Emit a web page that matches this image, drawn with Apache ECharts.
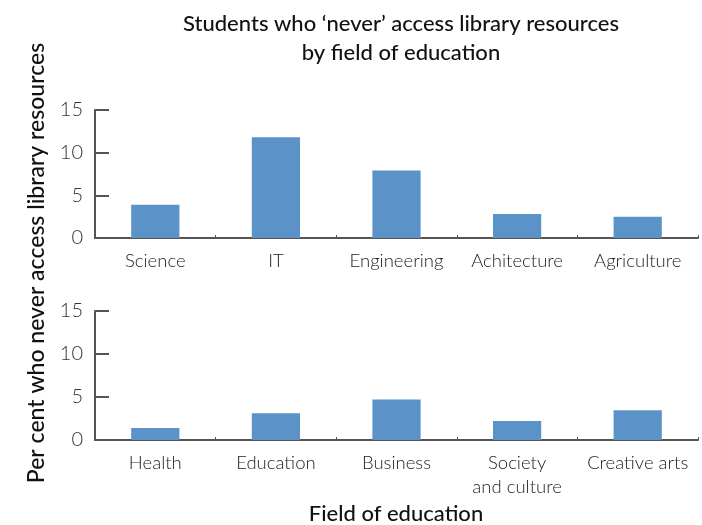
<!DOCTYPE html>
<html><head><meta charset="utf-8">
<script src="https://cdn.jsdelivr.net/npm/echarts@6/dist/echarts.min.js"></script>
<style>html,body{margin:0;padding:0;background:#fff}#c{width:702px;height:525px}</style>
</head><body><div id="c"></div>
<script>
const topCategories = ['Science', 'IT', 'Engineering', 'Achitecture', 'Agriculture'];
const topValues = [3.9, 11.8, 7.9, 2.8, 2.5];
const bottomCategories = ['Health', 'Education', 'Business', 'Society\nand culture', 'Creative arts'];
const bottomValues = [1.4, 3.1, 4.7, 2.2, 3.45];
const yTicks = [0, 5, 10, 15];

const FONT = 'Lato';
const axisColor = '#555';
function yAxis(gi) {
  return {
    type: 'value', gridIndex: gi, min: yTicks[0], max: yTicks[yTicks.length - 1], interval: yTicks[1] - yTicks[0],
    axisLine: { show: true, lineStyle: { color: axisColor, width: 2 } },
    axisTick: { show: true, inside: true, length: 14, lineStyle: { color: axisColor, width: 2 } },
    splitLine: { show: false },
    axisLabel: { fontFamily: FONT, fontWeight: 300, fontSize: 20, color: '#333', margin: 12 }
  };
}
function xAxis(gi, cats) {
  return {
    type: 'category', gridIndex: gi, data: cats,
    axisLine: { show: true, lineStyle: { color: axisColor, width: 2 } },
    axisTick: { show: true, inside: true, length: 3, lineStyle: { color: axisColor, width: 1 } },
    axisLabel: { fontFamily: FONT, fontWeight: 300, fontSize: 18.5, color: '#222', margin: 11, lineHeight: 24, interval: 0 }
  };
}
const chart = echarts.init(document.getElementById('c'));
chart.setOption({
  animation: false,
  title: {
    text: 'Students who \u2018never\u2019 access library resources\nby field of education',
    left: 396, top: 4, textAlign: 'center',
    textStyle: { fontFamily: FONT, fontWeight: 500, fontSize: 22, color: '#111', lineHeight: 29 }
  },
  grid: [
    { left: 95, top: 110, width: 603, height: 128 },
    { left: 95, top: 311, width: 603, height: 129 }
  ],
  xAxis: [xAxis(0, topCategories), xAxis(1, bottomCategories)],
  yAxis: [yAxis(0), yAxis(1)],
  series: [
    { type: 'bar', xAxisIndex: 0, yAxisIndex: 0, data: topValues, barWidth: '40%', itemStyle: { color: '#5B93C8' } },
    { type: 'bar', xAxisIndex: 1, yAxisIndex: 1, data: bottomValues, barWidth: '40%', itemStyle: { color: '#5B93C8' } }
  ],
  graphic: [
    { type: 'text', x: 37, y: 263, rotation: Math.PI / 2,
      style: { text: 'Per cent who never access library resources', fontFamily: FONT, fontWeight: 500, fontSize: 23, fill: '#111', align: 'center', verticalAlign: 'middle' } },
    { type: 'text', x: 396, y: 514,
      style: { text: 'Field of education', fontFamily: FONT, fontWeight: 500, fontSize: 22, fill: '#111', align: 'center', verticalAlign: 'middle' } }
  ]
});
</script></body></html>
